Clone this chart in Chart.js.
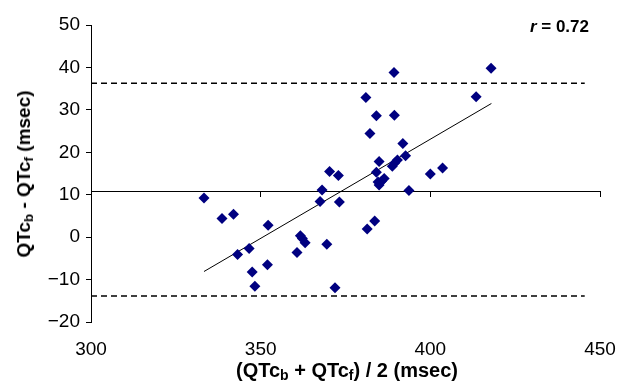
<!DOCTYPE html>
<html>
<head>
<meta charset="utf-8">
<script src="https://cdn.jsdelivr.net/npm/chart.js@4"></script>
<style>
  body { margin: 0; background: #fff; }
  #wrap { position: relative; width: 618px; height: 386px; font-family: "Liberation Sans", Arial, sans-serif; }
  .lbl { position: absolute; white-space: nowrap; color: #000; font-weight: bold; }
  .lbl sub { font-size: 0.7em; vertical-align: -0.25em; line-height: 0; }
</style>
</head>
<body>
<div id="wrap">
  <canvas id="baChart" width="618" height="386"></canvas>
  <div class="lbl" id="ytitle" style="left:24px; top:174px; font-size:19px; transform:translate(-50%,-50%) rotate(-90deg);">QTc<sub>b</sub> - QTc<sub>f</sub> (msec)</div>
  <div class="lbl" id="xtitle" style="left:347px; top:370px; font-size:20px; transform:translate(-50%,-50%);">(QTc<sub>b</sub> + QTc<sub>f</sub>) / 2 (msec)</div>
  <div class="lbl" id="rlabel" style="right:29px; top:27px; font-size:17px; transform:translateY(-50%);"><i>r</i> = 0.72</div>
</div>
<script>
// mean of the two QTc values (x) and their difference (y)
var meanQTc = [333.3, 338.6, 342.0, 343.2, 346.6, 347.5, 348.3, 352.2, 352.0, 360.7,
               361.7, 362.3, 363.1, 367.5, 368.1, 369.5, 370.3, 372.9, 373.2, 371.9,
               381.0, 381.4, 382.2, 383.6, 384.1, 384.1, 384.9, 384.6, 384.9, 385.6,
               386.4, 389.3, 389.4, 388.8, 389.5, 390.3, 391.9, 392.7, 393.7, 400.0,
               403.6, 413.5, 417.9];
var diffQTc = [9.2, 4.4, 5.4, -4.1, -2.7, -8.2, -11.6, 2.8, -6.5, -3.6,
               0.3, -0.3, -1.3, 8.4, 11.1, -1.7, 15.5, 14.5, 8.3, -11.9,
               32.9, 1.9, 24.4, 3.8, 28.6, 15.3, 17.8, 13.0, 12.3, 13.2,
               13.8, 38.8, 28.7, 16.7, 17.5, 18.2, 22.1, 19.2, 11.0, 14.9,
               16.3, 33.1, 39.8];

var meanDiff = 10.8;
var upperLimit = 36.3;
var lowerLimit = -13.9;
var limitRange = [300, 445.5];
var fitX = [333.3, 418.0];
var fitY = [-8.1, 31.5];

var xTicks = [300, 350, 400, 450];
var yTicks = [-20, -10, 0, 10, 20, 30, 40, 50];

var points = meanQTc.map(function (x, i) { return { x: x, y: diffQTc[i] }; });
function hline(v) { return limitRange.map(function (x) { return { x: x, y: v }; }); }

var font = { family: "'Liberation Sans', Arial, sans-serif", size: 19 };
var minus = function (v) { return String(v).replace('-', '\u2212'); };

var ctx = document.getElementById("baChart").getContext('2d');
var chart = new Chart(ctx, {
    type: 'scatter',
    data: {
        datasets: [{
            data: points,
            pointStyle: 'rectRot',
            pointRadius: 5.5,
            backgroundColor: '#000080',
            borderWidth: 0
        }, {
            data: fitX.map(function (x, i) { return { x: x, y: fitY[i] }; }),
            showLine: true,
            borderColor: '#000',
            borderWidth: 1,
            pointRadius: 0
        }, {
            data: hline(upperLimit),
            showLine: true,
            borderColor: '#000',
            borderWidth: 1.5,
            borderDash: [6, 4],
            pointRadius: 0
        }, {
            data: hline(lowerLimit),
            showLine: true,
            borderColor: '#000',
            borderWidth: 1.5,
            borderDash: [6, 4],
            pointRadius: 0
        }]
    },
    options: {
        responsive: false,
        animation: false,
        events: [],
        layout: { padding: { top: 25, right: 18, bottom: 0, left: 0 } },
        plugins: { legend: { display: false }, tooltip: { enabled: false } },
        scales: {
            x: {
                type: 'linear',
                min: 300, max: 450,
                afterBuildTicks: function (s) { s.ticks = xTicks.map(function (v) { return { value: v }; }); },
                afterFit: function (s) { s.height = 64; s.paddingRight = 0; s.paddingLeft = 0; },
                border: { display: false },
                grid: { display: false },
                ticks: { color: '#000', font: font, padding: 8, maxRotation: 0 }
            },
            xMean: {
                type: 'linear',
                axis: 'x',
                position: { y: meanDiff },
                min: 300, max: 450,
                afterBuildTicks: function (s) { s.ticks = xTicks.map(function (v) { return { value: v }; }); },
                border: { display: true, color: '#000', width: 1 },
                grid: { drawOnChartArea: false, drawTicks: true, tickLength: 5, color: '#000' },
                ticks: { display: false }
            },
            y: {
                min: -20, max: 50,
                afterBuildTicks: function (s) { s.ticks = yTicks.map(function (v) { return { value: v }; }); },
                afterFit: function (s) { s.width = 91; s.paddingTop = 0; s.paddingBottom = 0; },
                border: { display: true, color: '#000', width: 1 },
                grid: { drawOnChartArea: false, drawTicks: true, tickLength: 5, color: '#000' },
                ticks: { color: '#000', font: font, padding: 6, callback: minus }
            }
        }
    }
});
</script>
</body>
</html>
